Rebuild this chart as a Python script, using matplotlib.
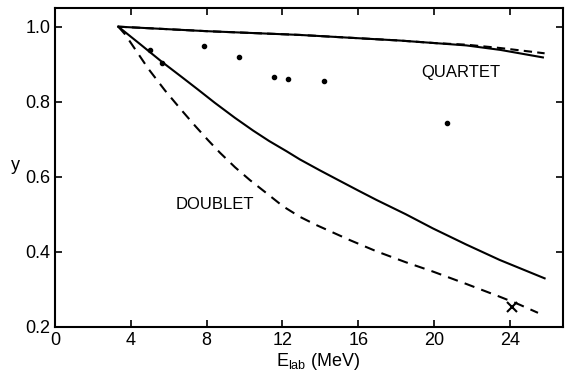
import numpy as np
import matplotlib.pyplot as plt

plt.rcParams['font.family'] = ['Liberation Sans', 'DejaVu Sans']
plt.rcParams['mathtext.fontset'] = 'custom'
plt.rcParams['mathtext.rm'] = 'Liberation Sans'
plt.rcParams['mathtext.it'] = 'Liberation Sans:italic'

# quartet curves
quartet_x = [3.34, 8.0, 12.9, 18.19, 20.1, 21.7, 23.5, 25.74]
quartet_solid = [1.0, 0.988, 0.978, 0.963, 0.956, 0.950, 0.938, 0.918]
quartet_dash_x = [3.34, 8.0, 12.9, 18.19, 20.1, 21.7, 23.5, 25.83]
quartet_dash = [1.0, 0.988, 0.978, 0.963, 0.956, 0.952, 0.943, 0.929]

# doublet curves
doublet_x = [3.34, 4.5, 5.62, 6.68, 7.55, 8.43, 9.49, 10.45, 11.3, 12.21, 12.92,
             13.97, 15.02, 16.0, 16.96, 18.5, 19.94, 21.7, 23.46, 25.83]
doublet_solid = [1.0, 0.953, 0.907, 0.866, 0.832, 0.797, 0.757, 0.723, 0.695, 0.668, 0.646,
                 0.617, 0.589, 0.563, 0.538, 0.500, 0.462, 0.419, 0.378, 0.329]
doublet_dash_x = [3.34, 3.69, 4.92, 5.8, 6.68, 7.4, 8.08, 8.7, 9.5, 10.28, 11.16, 12.03,
                  12.92, 13.79, 14.67, 15.55, 16.96, 18.5, 19.94, 21.7, 23.46, 24.5, 25.48]
doublet_dash = [1.0, 0.980, 0.888, 0.830, 0.777, 0.735, 0.697, 0.664, 0.625, 0.591, 0.556, 0.521,
                0.493, 0.471, 0.451, 0.431, 0.401, 0.372, 0.347, 0.314, 0.280, 0.259, 0.237]

# data points
pts_x = [5.0, 5.62, 7.85, 9.72, 11.54, 12.27, 14.2, 20.7]
pts_y = [0.938, 0.904, 0.949, 0.92, 0.867, 0.86, 0.854, 0.744]
cross_x = [24.1]
cross_y = [0.253]

fig = plt.figure(figsize=(5.66, 3.77), dpi=100)
ax = fig.add_axes([0.0972, 0.1334, 0.8975, 0.8466])

ax.plot(quartet_x, quartet_solid, color='black', lw=1.5)
ax.plot(quartet_dash_x, quartet_dash, color='black', lw=1.5, ls=(0, (4, 2.5)))
ax.plot(doublet_x, doublet_solid, color='black', lw=1.5)
ax.plot(doublet_dash_x, doublet_dash, color='black', lw=1.5, ls=(0, (5, 3.5)))
ax.plot(pts_x, pts_y, 'o', color='black', ms=3)
ax.plot(cross_x, cross_y, 'x', color='black', ms=7, mew=1.5)

ax.text(19.3, 0.877, 'QUARTET', fontsize=12, ha='left', va='center')
ax.text(6.36, 0.525, 'DOUBLET', fontsize=12, ha='left', va='center')

ax.set_xlim(0, 26.8)
ax.set_ylim(0.2, 1.051)
ax.set_xticks([0, 4, 8, 12, 16, 20, 24])
ax.set_yticks([0.2, 0.4, 0.6, 0.8, 1.0])
ax.set_yticklabels(['0.2', '0.4', '0.6', '0.8', '1.0'])
ax.tick_params(direction='in', length=5, width=1.2, labelsize=13, top=True, right=True)
for s in ax.spines.values():
    s.set_linewidth(1.5)

ax.set_xlabel(r'E$_{\mathrm{lab}}$ (MeV)', fontsize=13)
ax.xaxis.set_label_coords(0.518, -0.075)
ax.set_ylabel('y', fontsize=13, rotation=0)
ax.yaxis.set_label_coords(-0.077, 0.48)

fig.savefig('out.png', dpi=100)
